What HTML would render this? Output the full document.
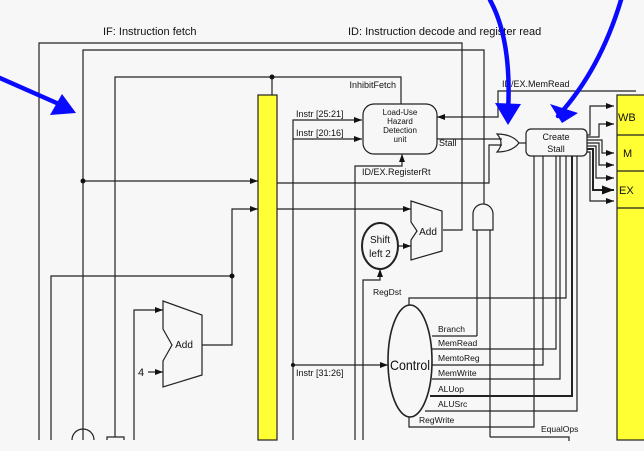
<!DOCTYPE html>
<html><head><style>
html,body{margin:0;padding:0;background:#f7f7f7;}
svg{display:block;}
text{font-family:"Liberation Sans",sans-serif;fill:#111;}
</style></head><body>
<svg width="644" height="451" viewBox="0 0 644 451" xmlns="http://www.w3.org/2000/svg">
<defs>
<marker id="a" markerWidth="8" markerHeight="6" refX="8" refY="3" orient="auto" markerUnits="userSpaceOnUse"><path d="M0,0 L8,3 L0,6 z" fill="#111"/></marker>
<marker id="ab" markerWidth="12" markerHeight="9" refX="12" refY="4.5" orient="auto" markerUnits="userSpaceOnUse"><path d="M0,0 L12,4.5 L0,9 z" fill="#111"/></marker>
</defs>
<rect width="644" height="451" fill="#f7f7f7"/>
<text x="103" y="35" font-size="11">IF: Instruction fetch</text>
<text x="348" y="35" font-size="11">ID: Instruction decode and register read</text>

<g fill="none" stroke="#222" stroke-width="1.2">
<polyline points="443,230 462,230 462,43 39,43 39,440"/>
<polyline points="83,440 83,50 484,50 484,204"/>
<polyline points="115,437 115,77 401,77 401,104"/>
<line x1="272" y1="77" x2="272" y2="95"/>
<line x1="83" y1="181" x2="258" y2="181" marker-end="url(#a)"/>
<polyline points="232,276 232,209 258,209" marker-end="url(#a)"/>
<polyline points="51,440 51,276 232,276"/>
<polyline points="202,345 232,345 232,276"/>
<polyline points="134,440 134,310 163,310" marker-end="url(#a)"/>
<line x1="148" y1="372" x2="163" y2="372" marker-end="url(#a)"/>
<polygon points="163,301 202,315 202,375 163,387 163,361 172,345 163,329"/>
<path d="M72,440 A11,11 0 0 1 94,440"/>
<polyline points="107,440 107,437 124,437 124,440"/>

<polyline points="293,440 293,120 362,120" marker-end="url(#a)"/>
<line x1="293" y1="139" x2="362" y2="139" marker-end="url(#a)"/>
<line x1="293" y1="365" x2="388" y2="365" marker-end="url(#a)"/>
<polyline points="277,183 489,183 489,145 502,145"/>
<line x1="277" y1="209" x2="411" y2="209" marker-end="url(#a)"/>
<polygon points="411,201 442,211 442,251 411,260 411,240 417,231 411,222"/>
<line x1="398" y1="246" x2="411" y2="246" marker-end="url(#a)"/>
<ellipse cx="380" cy="246" rx="18" ry="23" stroke-width="2"/>
<polyline points="363,440 363,280 380,280 380,269" marker-end="url(#a)"/>
<polyline points="355,440 355,166 402,166 402,154" marker-end="url(#a)"/>
<rect x="363" y="104" width="74" height="50" rx="11"/>
<polyline points="636,91 498,91 498,117 437,117" marker-end="url(#a)"/>
<line x1="437" y1="139" x2="502" y2="139"/>
<path d="M497,134 Q505,143 497,152 Q512,152 519,143 Q512,134 497,134 z"/>
<line x1="519" y1="143" x2="526" y2="143"/>
<rect x="526" y="129" width="61" height="27" rx="5"/>
<path d="M473,230 L473,214 A10,10 0 0 1 493,214 L493,230 z"/>
<line x1="477" y1="230" x2="477" y2="336"/>
<line x1="490" y1="230" x2="490" y2="437"/>
<!-- fan-out -->
<polyline points="587,135 590,135 590,106 614,106" marker-end="url(#a)"/>
<polyline points="587,137 599,137 599,124 614,124" marker-end="url(#a)"/>
<polyline points="587,140 602,140 602,153 614,153" marker-end="url(#a)"/>
<polyline points="587,143 599,143 599,165 614,165" marker-end="url(#a)"/>
<polyline points="587,146 596,146 596,178 614,178" marker-end="url(#a)"/>
<polyline points="587,149 593,149 593,190 614,190" stroke-width="2" marker-end="url(#ab)"/>
<polyline points="587,152 590,152 590,201 614,201" marker-end="url(#a)"/>
<ellipse cx="410" cy="361" rx="22" ry="56" stroke-width="1.6"/>
<polyline points="409,305 409,298 566,298 566,156"/>
<polyline points="432,336 477,336"/>
<polyline points="432,349 556,349 556,156"/>
<polyline points="432,365 543,365 543,156"/>
<polyline points="432,379 560,379 560,156"/>
<polyline points="430,396 572,396 572,156" stroke-width="2"/>
<polyline points="425,411 577,411 577,156"/>
<polyline points="409,417 409,427 534,427 534,156"/>
<polyline points="490,437 569,437 569,441"/>
</g>
<text x="396" y="88" font-size="9" text-anchor="end">InhibitFetch</text>
<text x="296" y="117" font-size="9">Instr [25:21]</text>
<text x="296" y="136" font-size="9">Instr [20:16]</text>
<text x="296" y="376" font-size="9">Instr [31:26]</text>
<g font-size="8" text-anchor="middle"><text x="400" y="115">Load-Use</text><text x="400" y="124">Hazard</text><text x="400" y="133">Detection</text><text x="400" y="142">unit</text></g>
<text x="439" y="146" font-size="9">Stall</text>
<text x="362" y="175" font-size="9">ID/EX.RegisterRt</text>
<text x="502" y="87" font-size="9">ID/EX.MemRead</text>
<g font-size="9" text-anchor="middle"><text x="556" y="140">Create</text><text x="556" y="152">Stall</text></g>
<text x="428" y="235" font-size="10" text-anchor="middle">Add</text>
<text x="184" y="348" font-size="10" text-anchor="middle">Add</text>
<text x="138" y="376" font-size="11">4</text>
<g font-size="10" text-anchor="middle"><text x="380" y="243">Shift</text><text x="380" y="257">left 2</text></g>
<text x="410" y="370" font-size="14" text-anchor="middle" textLength="40" lengthAdjust="spacingAndGlyphs">Control</text>
<g font-size="8.5"><text x="373" y="295">RegDst</text><text x="438" y="332">Branch</text><text x="438" y="346">MemRead</text><text x="438" y="361">MemtoReg</text><text x="438" y="376">MemWrite</text><text x="438" y="392">ALUop</text><text x="438" y="407">ALUSrc</text><text x="419" y="423">RegWrite</text><text x="541" y="432">EqualOps</text></g>

<rect x="258" y="95" width="19" height="345" fill="#ffff33" stroke="#222" stroke-width="1.2"/>
<rect x="617" y="95" width="30" height="345" fill="#ffff33" stroke="#222" stroke-width="1.2"/>
<g stroke="#222" stroke-width="1.2"><line x1="617" y1="135" x2="644" y2="135"/><line x1="617" y1="171" x2="644" y2="171"/><line x1="617" y1="208" x2="644" y2="208"/></g>
<g font-size="11"><text x="618" y="121">WB</text><text x="623" y="157">M</text><text x="619" y="194">EX</text></g>
<g fill="#111"><circle cx="83" cy="181" r="2.5"/><circle cx="272" cy="77" r="2.5"/><circle cx="232" cy="276" r="2.5"/><circle cx="293" cy="365" r="2"/></g>
<rect x="0" y="441" width="644" height="10" fill="#f7f7f7"/>

<g stroke="#0a0aff" stroke-width="4.5" fill="none" stroke-linecap="round">
<line x1="0" y1="78" x2="68" y2="108"/>
<path d="M490,0 Q512,40 508,112"/>
<path d="M621,0 Q600,70 558,116"/>
</g>
<g fill="#0a0aff">
<polygon points="76,113 50,115 62,94"/>
<polygon points="508,125 495,103 521,104"/>
<polygon points="562,123 550,104 578,113"/>
</g>
</svg>
</body></html>
